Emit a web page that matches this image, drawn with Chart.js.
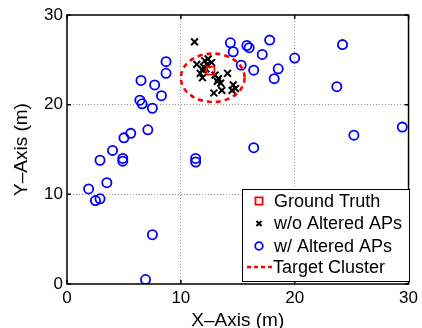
<!DOCTYPE html>
<html>
<head>
<meta charset="utf-8">
<script src="https://cdn.jsdelivr.net/npm/chart.js@4/dist/chart.umd.min.js"></script>
<style>
  html, body { margin: 0; padding: 0; background: #fff; }
</style>
</head>
<body>
<canvas id="locChart" width="422" height="328"></canvas>
<script>
// axis ticks
const xTicks = [0, 10, 20, 30];
const yTicks = [0, 10, 20, 30];

// ground truth position
const truthX = [12.6];
const truthY = [23.8];

// estimates without altered APs
const withoutX = [11.2, 11.4, 12.1, 12.4, 12.7, 12.3, 11.9, 12.0, 11.7, 11.9, 12.2, 13.0, 13.3, 14.1, 13.2, 13.5, 13.6, 12.9, 14.6, 14.8, 14.5];
const withoutY = [27.0, 24.5, 24.9, 25.1, 24.7, 24.5, 23.9, 24.2, 23.5, 23.0, 24.0, 23.3, 22.9, 23.5, 22.6, 22.4, 21.6, 21.3, 22.2, 21.8, 21.6];

// estimates with altered APs
const withX = [8.7, 8.7, 6.5, 7.7, 8.3, 6.4, 6.6, 7.5, 7.1, 5.6, 5.0, 4.0, 2.9, 4.9, 4.9, 11.3, 11.3, 1.9, 2.5, 2.9,
               3.5, 7.5, 6.9, 14.35, 14.6, 15.8, 16.0, 17.8, 17.15, 15.3, 16.4, 18.55, 18.2, 20.0, 24.2, 23.7, 25.2, 29.45, 16.4];
const withY = [24.8, 23.5, 22.7, 22.2, 21.0, 20.5, 20.1, 19.6, 17.2, 16.8, 16.3, 14.9, 13.8, 14.0, 13.7, 14.0, 13.6, 10.6, 9.3, 9.5,
               11.3, 5.5, 0.5, 26.9, 25.9, 26.6, 26.35, 27.2, 25.6, 24.4, 23.85, 24.0, 22.9, 25.2, 26.7, 22.0, 16.6, 17.5, 15.2];

// target cluster (ellipse centre and radii in metres)
const clusterCenter = [12.8, 23.0];
const clusterRadius = [2.8, 2.7];

const legendLabels = ['Ground Truth', 'w/o Altered APs', 'w/ Altered APs', 'Target Cluster'];

const FONT = "'Liberation Sans', Arial, Helvetica, sans-serif";

function toPoints(xs, ys) {
    return xs.map((x, i) => ({ x: x, y: ys[i] }));
}

// dashed red ellipse, drawn on top of the markers
const clusterPlugin = {
    id: 'cluster',
    afterDatasetsDraw(chart) {
        const { ctx, scales: { x, y } } = chart;
        const cx = x.getPixelForValue(clusterCenter[0]);
        const cy = y.getPixelForValue(clusterCenter[1]);
        const rx = Math.abs(x.getPixelForValue(clusterCenter[0] + clusterRadius[0]) - cx);
        const ry = Math.abs(y.getPixelForValue(clusterCenter[1] + clusterRadius[1]) - cy);
        ctx.save();
        ctx.strokeStyle = '#ff0000';
        ctx.lineWidth = 2.6;
        ctx.setLineDash([5, 4]);
        ctx.beginPath();
        ctx.ellipse(cx, cy, rx, ry, 0, 0, Math.PI * 2);
        ctx.stroke();
        ctx.restore();
    }
};

// box around the plot with inward tick marks, then the legend
const framePlugin = {
    id: 'frame',
    afterDraw(chart) {
        const { ctx, chartArea: a, scales: { x, y } } = chart;
        ctx.save();
        ctx.strokeStyle = '#000';
        ctx.lineWidth = 1.5;
        ctx.strokeRect(a.left, a.top, a.right - a.left, a.bottom - a.top);
        ctx.beginPath();
        xTicks.forEach(v => {
            const px = x.getPixelForValue(v);
            ctx.moveTo(px, a.bottom); ctx.lineTo(px, a.bottom - 4);
            ctx.moveTo(px, a.top); ctx.lineTo(px, a.top + 4);
        });
        yTicks.forEach(v => {
            const py = y.getPixelForValue(v);
            ctx.moveTo(a.left, py); ctx.lineTo(a.left + 4, py);
            ctx.moveTo(a.right, py); ctx.lineTo(a.right - 4, py);
        });
        ctx.stroke();

        // legend
        const bx = 242, by = 189, bw = 167, bh = 92;
        ctx.fillStyle = '#fff';
        ctx.fillRect(bx, by, bw, bh);
        ctx.lineWidth = 1;
        ctx.strokeRect(bx + 0.5, by + 0.5, bw, bh);

        const rows = [201, 223.5, 246, 267];
        const mx = 259, tx = 274;
        const sets = chart.data.datasets;
        for (let i = 0; i < 3; i++) {
            const ds = sets[i];
            ctx.save();
            ctx.strokeStyle = ds.borderColor;
            ctx.fillStyle = 'rgba(0,0,0,0)';
            ctx.lineWidth = ds.pointBorderWidth;
            ctx.setLineDash([]);
            Chart.helpers.drawPoint(ctx, {
                pointStyle: ds.pointStyle,
                radius: ds.legendRadius,
                borderWidth: ds.pointBorderWidth,
                rotation: 0
            }, mx, rows[i]);
            ctx.restore();
        }
        ctx.strokeStyle = '#ff0000';
        ctx.lineWidth = 2.6;
        ctx.setLineDash([4, 3]);
        ctx.beginPath();
        ctx.moveTo(247, rows[3]);
        ctx.lineTo(272, rows[3]);
        ctx.stroke();
        ctx.setLineDash([]);

        ctx.fillStyle = '#000';
        ctx.font = '18px ' + FONT;
        ctx.textBaseline = 'middle';
        ctx.textAlign = 'left';
        legendLabels.forEach((t, i) => ctx.fillText(t, i === 3 ? 273 : tx, rows[i] + 1));
        ctx.restore();
    }
};

const gridColor = c => (c.tick && (c.tick.value === 0 || c.tick.value === 30)) ? 'rgba(0,0,0,0)' : '#9a9a9a';

new Chart(document.getElementById('locChart').getContext('2d'), {
    type: 'scatter',
    data: {
        datasets: [
            {
                label: legendLabels[0],
                data: toPoints(truthX, truthY),
                pointStyle: 'rect',
                pointRadius: 5.6,
                legendRadius: 5,
                pointBorderWidth: 1.8,
                borderColor: '#ff0000',
                pointBorderColor: '#ff0000',
                pointBackgroundColor: 'rgba(0,0,0,0)'
            },
            {
                label: legendLabels[1],
                data: toPoints(withoutX, withoutY),
                pointStyle: 'crossRot',
                pointRadius: 4.8,
                legendRadius: 3.6,
                pointBorderWidth: 2,
                borderColor: '#000',
                pointBorderColor: '#000',
                pointBackgroundColor: 'rgba(0,0,0,0)'
            },
            {
                label: legendLabels[2],
                data: toPoints(withX, withY),
                pointStyle: 'circle',
                pointRadius: 4.6,
                legendRadius: 3.8,
                pointBorderWidth: 1.8,
                borderColor: '#0000ff',
                pointBorderColor: '#0000ff',
                pointBackgroundColor: 'rgba(0,0,0,0)'
            }
        ]
    },
    options: {
        responsive: false,
        animation: false,
        devicePixelRatio: 1,
        layout: { padding: { top: 15, right: 10, left: 0, bottom: 0 } },
        plugins: {
            legend: { display: false },
            tooltip: { enabled: false }
        },
        scales: {
            x: {
                type: 'linear',
                min: 0, max: 30,
                afterFit: s => { s.height = 44; },
                afterBuildTicks: s => { s.ticks = xTicks.map(v => ({ value: v })); },
                ticks: { color: '#000', font: { family: FONT, size: 17 }, padding: 4, maxRotation: 0 },
                grid: { color: gridColor, lineWidth: 1, drawTicks: false },
                border: { display: false, dash: [1, 2] },
                title: { display: true, text: 'X\u2013Axis (m)', color: '#000', font: { family: FONT, size: 19 }, padding: { top: 0, bottom: -4 } }
            },
            y: {
                type: 'linear',
                min: 0, max: 30,
                afterFit: s => { s.width = 67; },
                afterBuildTicks: s => { s.ticks = yTicks.map(v => ({ value: v })); },
                ticks: { color: '#000', font: { family: FONT, size: 17 }, padding: 4 },
                grid: { color: gridColor, lineWidth: 1, drawTicks: false },
                border: { display: false, dash: [1, 2] },
                title: { display: true, text: 'Y\u2013Axis (m)', color: '#000', font: { family: FONT, size: 19 }, padding: { top: 10, bottom: 0 } }
            }
        }
    },
    plugins: [clusterPlugin, framePlugin]
});
</script>
</body>
</html>
